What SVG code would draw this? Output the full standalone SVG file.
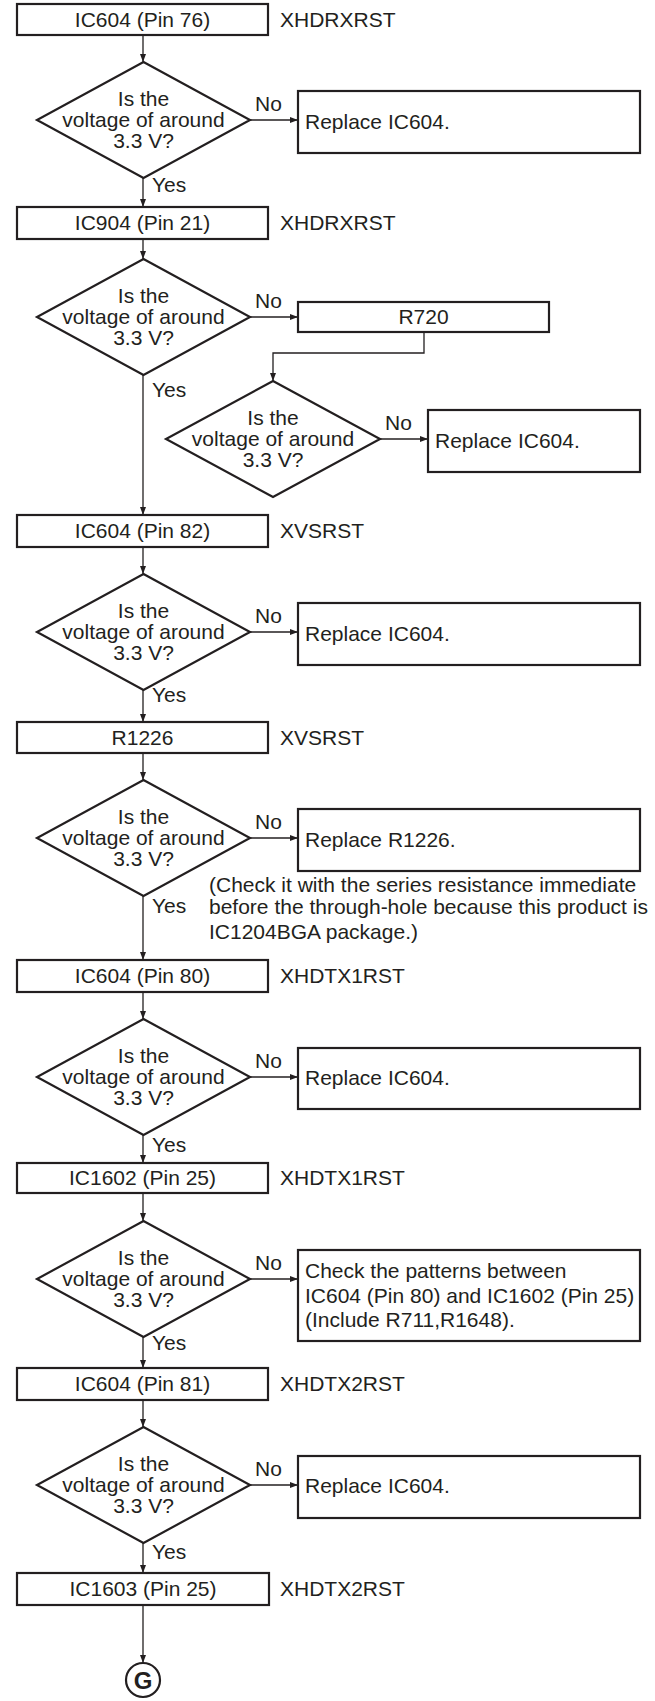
<svg xmlns="http://www.w3.org/2000/svg" width="655" height="1701" viewBox="0 0 655 1701">
<style>
text{font-family:"Liberation Sans",Arial,sans-serif;font-size:21px;fill:#231f20}
.c{text-anchor:middle}
.box{fill:#fff;stroke:#231f20;stroke-width:2.2}
.dia{fill:#fff;stroke:#231f20;stroke-width:2.2;stroke-linejoin:miter}
.ln{fill:none;stroke:#231f20;stroke-width:1.3}
.g{font-weight:bold;font-size:24px}
</style>
<defs>
<marker id="ah" viewBox="0 0 8 6" refX="8" refY="3" markerWidth="8" markerHeight="6" markerUnits="userSpaceOnUse" orient="auto">
<path d="M0,0 L8,3 L0,6 z" fill="#231f20"/>
</marker>
</defs>
<rect width="655" height="1701" fill="#fff"/>
<g id="connectors">
<path class="ln" d="M143,35 V62" marker-end="url(#ah)"/>
<path class="ln" d="M250,120 H298" marker-end="url(#ah)"/>
<path class="ln" d="M143,178 V207" marker-end="url(#ah)"/>
<path class="ln" d="M143,239 V259" marker-end="url(#ah)"/>
<path class="ln" d="M250,317 H298" marker-end="url(#ah)"/>
<path class="ln" d="M424,332 V353 H273 V381" marker-end="url(#ah)"/>
<path class="ln" d="M380,439 H428" marker-end="url(#ah)"/>
<path class="ln" d="M143,375 V515" marker-end="url(#ah)"/>
<path class="ln" d="M143,547 V574" marker-end="url(#ah)"/>
<path class="ln" d="M250,632 H298" marker-end="url(#ah)"/>
<path class="ln" d="M143,690 V722" marker-end="url(#ah)"/>
<path class="ln" d="M143,753 V780" marker-end="url(#ah)"/>
<path class="ln" d="M250,838 H298" marker-end="url(#ah)"/>
<path class="ln" d="M143,896 V960" marker-end="url(#ah)"/>
<path class="ln" d="M143,992 V1019" marker-end="url(#ah)"/>
<path class="ln" d="M250,1077 H298" marker-end="url(#ah)"/>
<path class="ln" d="M143,1135 V1163" marker-end="url(#ah)"/>
<path class="ln" d="M143,1193 V1221" marker-end="url(#ah)"/>
<path class="ln" d="M250,1279 H298" marker-end="url(#ah)"/>
<path class="ln" d="M143,1337 V1368" marker-end="url(#ah)"/>
<path class="ln" d="M143,1400 V1427" marker-end="url(#ah)"/>
<path class="ln" d="M250,1485 H298" marker-end="url(#ah)"/>
<path class="ln" d="M143,1543 V1573" marker-end="url(#ah)"/>
<path class="ln" d="M143,1605 V1663" marker-end="url(#ah)"/>
<text x="255" y="111">No</text>
<text x="152" y="192">Yes</text>
<text x="255" y="308">No</text>
<text x="385" y="430">No</text>
<text x="152" y="397">Yes</text>
<text x="255" y="623">No</text>
<text x="152" y="702">Yes</text>
<text x="255" y="829">No</text>
<text x="152" y="913">Yes</text>
<text x="255" y="1068">No</text>
<text x="152" y="1152">Yes</text>
<text x="255" y="1270">No</text>
<text x="152" y="1350">Yes</text>
<text x="255" y="1476">No</text>
<text x="152" y="1559">Yes</text>
</g>
<g id="b1"><rect class="box" x="17" y="4" width="251" height="31"/><text class="c" x="142.5" y="27">IC604 (Pin 76)</text><text x="280" y="27">XHDRXRST</text></g>
<g id="d1"><polygon class="dia" points="143.5,62 250,120 143.5,178 37,120"/><text class="c" x="143.5" y="106">Is the</text><text class="c" x="143.5" y="127">voltage of around</text><text class="c" x="143.5" y="148">3.3 V?</text></g>
<g id="r1"><rect class="box" x="298" y="91" width="342" height="62"/><text x="305" y="129">Replace IC604.</text></g>
<g id="b2"><rect class="box" x="17" y="207" width="251" height="32"/><text class="c" x="142.5" y="230">IC904 (Pin 21)</text><text x="280" y="230">XHDRXRST</text></g>
<g id="d2"><polygon class="dia" points="143.5,259 250,317 143.5,375 37,317"/><text class="c" x="143.5" y="303">Is the</text><text class="c" x="143.5" y="324">voltage of around</text><text class="c" x="143.5" y="345">3.3 V?</text></g>
<g id="r720"><rect class="box" x="298" y="302" width="251" height="30"/><text class="c" x="423.5" y="324">R720</text></g>
<g id="d3"><polygon class="dia" points="273,381 380,439 273,497 166,439"/><text class="c" x="273" y="425">Is the</text><text class="c" x="273" y="446">voltage of around</text><text class="c" x="273" y="467">3.3 V?</text></g>
<g id="r2"><rect class="box" x="428" y="410" width="212" height="62"/><text x="435" y="448">Replace IC604.</text></g>
<g id="b3"><rect class="box" x="17" y="515" width="251" height="32"/><text class="c" x="142.5" y="538">IC604 (Pin 82)</text><text x="280" y="538">XVSRST</text></g>
<g id="d4"><polygon class="dia" points="143.5,574 250,632 143.5,690 37,632"/><text class="c" x="143.5" y="618">Is the</text><text class="c" x="143.5" y="639">voltage of around</text><text class="c" x="143.5" y="660">3.3 V?</text></g>
<g id="r3"><rect class="box" x="298" y="603" width="342" height="62"/><text x="305" y="641">Replace IC604.</text></g>
<g id="b4"><rect class="box" x="17" y="722" width="251" height="31"/><text class="c" x="142.5" y="745">R1226</text><text x="280" y="745">XVSRST</text></g>
<g id="d5"><polygon class="dia" points="143.5,780 250,838 143.5,896 37,838"/><text class="c" x="143.5" y="824">Is the</text><text class="c" x="143.5" y="845">voltage of around</text><text class="c" x="143.5" y="866">3.3 V?</text></g>
<g id="r4"><rect class="box" x="298" y="809" width="342" height="62"/><text x="305" y="847">Replace R1226.</text></g>
<g id="note"><text x="209" y="892">(Check it with the series resistance immediate</text><text x="209" y="914">before the through-hole because this product is</text><text x="209" y="939">IC1204BGA package.)</text></g>
<g id="b5"><rect class="box" x="17" y="960" width="251" height="32"/><text class="c" x="142.5" y="983">IC604 (Pin 80)</text><text x="280" y="983">XHDTX1RST</text></g>
<g id="d6"><polygon class="dia" points="143.5,1019 250,1077 143.5,1135 37,1077"/><text class="c" x="143.5" y="1063">Is the</text><text class="c" x="143.5" y="1084">voltage of around</text><text class="c" x="143.5" y="1105">3.3 V?</text></g>
<g id="r5"><rect class="box" x="298" y="1048" width="342" height="61"/><text x="305" y="1085">Replace IC604.</text></g>
<g id="b6"><rect class="box" x="17" y="1163" width="251" height="30"/><text class="c" x="142.5" y="1185">IC1602 (Pin 25)</text><text x="280" y="1185">XHDTX1RST</text></g>
<g id="d7"><polygon class="dia" points="143.5,1221 250,1279 143.5,1337 37,1279"/><text class="c" x="143.5" y="1265">Is the</text><text class="c" x="143.5" y="1286">voltage of around</text><text class="c" x="143.5" y="1307">3.3 V?</text></g>
<g id="r6"><rect class="box" x="298" y="1250" width="342" height="91"/><text x="305" y="1278">Check the patterns between</text><text x="305" y="1303">IC604 (Pin 80) and IC1602 (Pin 25)</text><text x="305" y="1327">(Include R711,R1648).</text></g>
<g id="b7"><rect class="box" x="17" y="1368" width="251" height="32"/><text class="c" x="142.5" y="1391">IC604 (Pin 81)</text><text x="280" y="1391">XHDTX2RST</text></g>
<g id="d8"><polygon class="dia" points="143.5,1427 250,1485 143.5,1543 37,1485"/><text class="c" x="143.5" y="1471">Is the</text><text class="c" x="143.5" y="1492">voltage of around</text><text class="c" x="143.5" y="1513">3.3 V?</text></g>
<g id="r7"><rect class="box" x="298" y="1456" width="342" height="62"/><text x="305" y="1493">Replace IC604.</text></g>
<g id="b8"><rect class="box" x="17" y="1573" width="252" height="32"/><text class="c" x="143" y="1596">IC1603 (Pin 25)</text><text x="280" y="1596">XHDTX2RST</text></g>
<g id="g"><circle cx="143" cy="1680" r="17" fill="#fff" stroke="#231f20" stroke-width="2.2"/><text class="c g" x="143" y="1688.5">G</text></g>
</svg>
